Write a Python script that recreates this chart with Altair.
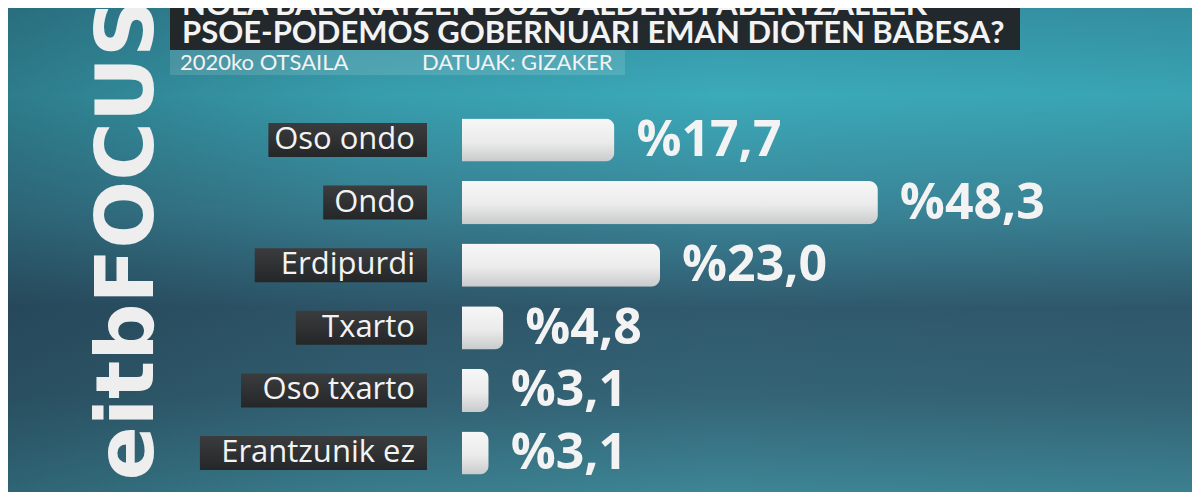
import altair as alt
import pandas as pd

# Survey answers, top to bottom, with their shares (%)
CATEGORIES = ["Oso ondo", "Ondo", "Erdipurdi", "Txarto", "Oso txarto", "Erantzunik ez"]
VALUES = [17.7, 48.3, 23.0, 4.8, 3.1, 3.1]

TITLE_LINES = [
    "NOLA BALORATZEN DUZU ALDERDI ABERTZALEEK",
    "PSOE-PODEMOS GOBERNUARI EMAN DIOTEN BABESA?",
]
DATE_TEXT = "2020ko OTSAILA"
SOURCE_TEXT = "DATUAK: GIZAKER"
BRAND = "eitbFOCUS"

W, H = 1184, 484
FONT = "Open Sans"
TEXT_COLOR = "#f3f3f3"

frame = pd.DataFrame({"label": CATEGORIES, "value": VALUES})
frame["text"] = ["%" + f"{v:.1f}".replace(".", ",") for v in VALUES]

x_scale = alt.Scale(domain=[0, 100], range=[454, 1315])
y_scale = alt.Scale(
    domain=CATEGORIES, range=[100.7, 476.3], paddingInner=0.31, paddingOuter=0.155
)
y_enc = alt.Y("label:N", scale=y_scale, axis=None, sort=CATEGORIES)

one = pd.DataFrame({"k": [0]})


def gradient(stops, vertical=True):
    return alt.Gradient(
        gradient="linear",
        stops=[alt.GradientStop(color=c, offset=o) for o, c in stops],
        x1=0, y1=0, x2=0 if vertical else 1, y2=1 if vertical else 0,
    )


background = alt.Chart(one).mark_rect(
    fill=gradient([
        (0.0, "#3593a5"), (0.18, "#3baab9"), (0.42, "#3a8598"),
        (0.62, "#30596d"), (0.8, "#346476"), (1.0, "#3d8595"),
    ])
).encode(x=alt.value(0), x2=alt.value(W), y=alt.value(0), y2=alt.value(H))

shade = alt.Chart(one).mark_rect(
    fill=gradient([
        (0.0, "rgba(20,40,55,0.35)"), (0.3, "rgba(20,40,55,0.1)"),
        (0.6, "rgba(20,40,55,0)"), (1.0, "rgba(20,40,55,0.05)"),
    ], vertical=False)
).encode(x=alt.value(0), x2=alt.value(W), y=alt.value(0), y2=alt.value(H))

brand = alt.Chart(one).mark_text(
    text=BRAND, font="DejaVu Sans", fontSize=80, fontWeight="bold", angle=270,
    align="center", baseline="middle", color="#eeeeee", clip=True,
).encode(x=alt.value(121), y=alt.value(232))

title_box = alt.Chart(one).mark_rect(color="#222325", opacity=0.95).encode(
    x=alt.value(162), x2=alt.value(1012), y=alt.value(0), y2=alt.value(42)
)
title_style = dict(
    font="Lato", fontSize=31, fontWeight="bold", align="left",
    baseline="alphabetic", color=TEXT_COLOR, clip=True,
)
title_top = alt.Chart(one).mark_text(text=TITLE_LINES[0], **title_style).encode(
    x=alt.value(174), y=alt.value(7)
)
title_bottom = alt.Chart(one).mark_text(text=TITLE_LINES[1], **title_style).encode(
    x=alt.value(174), y=alt.value(35)
)

sub_box = alt.Chart(one).mark_rect(color="#ffffff", opacity=0.13).encode(
    x=alt.value(162), x2=alt.value(617), y=alt.value(42), y2=alt.value(67)
)
sub_style = dict(
    font="Lato", fontSize=22, align="left", baseline="alphabetic", color=TEXT_COLOR
)
sub_date = alt.Chart(one).mark_text(text=DATE_TEXT, **sub_style).encode(
    x=alt.value(172), y=alt.value(62)
)
sub_source = alt.Chart(one).mark_text(text=SOURCE_TEXT, **sub_style).encode(
    x=alt.value(414), y=alt.value(62)
)

base = alt.Chart(frame)

label_boxes = base.transform_calculate(
    box_left="419 - (length(datum.label) * 13.7 + 49)",
    box_right="419",
).mark_bar(
    height=34,
    fill=gradient([(0.0, "#3b3c3e"), (1.0, "#252628")]),
).encode(
    x=alt.X("box_left:Q", scale=None, axis=None),
    x2="box_right:Q",
    y=y_enc,
)

labels = base.mark_text(
    font=FONT, fontSize=31, fontWeight=500, align="right", baseline="middle",
    color=TEXT_COLOR,
).encode(x=alt.value(407), y=y_enc, text="label:N")

bars = base.mark_bar(
    cornerRadiusEnd=9,
    fill=gradient([(0.0, "#f7f7f7"), (0.55, "#ebebeb"), (1.0, "#c9cacb")]),
).encode(
    x=alt.X("value:Q", scale=x_scale, axis=None),
    y=y_enc,
)

values = base.mark_text(
    font=FONT, fontSize=50, fontWeight="bold", align="left", baseline="middle",
    dx=22, dy=1, color=TEXT_COLOR,
).encode(
    x=alt.X("value:Q", scale=x_scale, axis=None),
    y=y_enc,
    text="text:N",
)

chart = alt.layer(
    background, shade, brand, title_box, title_top, title_bottom, sub_box,
    sub_date, sub_source, label_boxes, labels, bars, values,
).properties(
    width=W, height=H, padding=0,
    autosize=alt.AutoSizeParams(type="fit", contains="padding"),
    background="#3a8a9a",
).configure_view(stroke=None)

chart.save("out.html", embed_options={"renderer": "svg", "actions": False})
